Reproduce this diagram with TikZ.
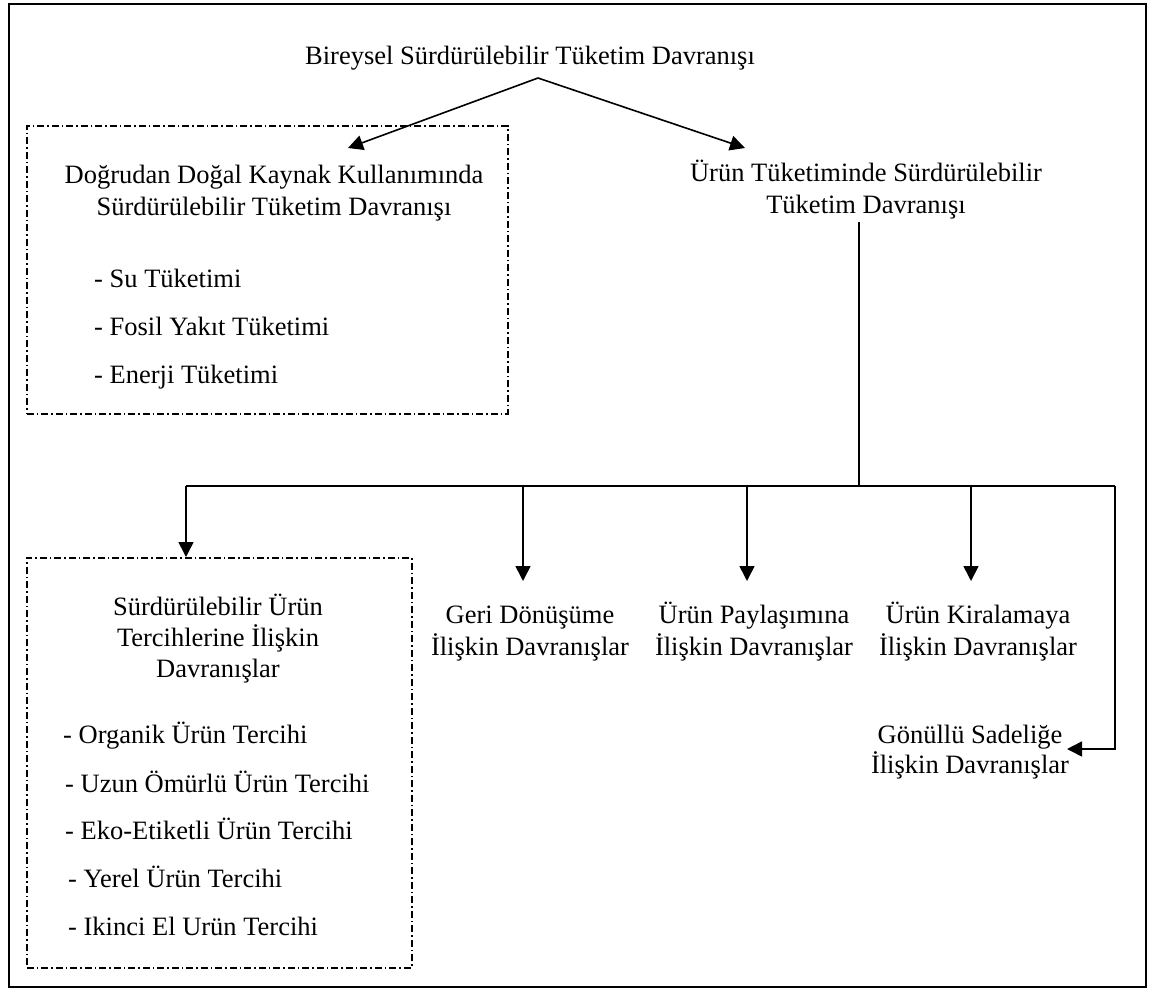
\documentclass[tikz,border=0pt]{standalone}
\usepackage{fontspec}
\setmainfont{Liberation Serif}
\usetikzlibrary{arrows.meta}

\begin{document}
\begin{tikzpicture}[x=1pt,y=-1pt,
  txt/.style={font=\fontsize{26.5}{32}\selectfont, inner sep=0pt},
  lbl/.style={txt, anchor=base, align=center},
  item/.style={txt, anchor=base west},
  wire/.style={line width=1.6pt},
  conn/.style={wire, -{Triangle[length=15pt,width=15pt]}},
  group/.style={draw, line width=1.5pt, dash pattern=on 7pt off 3pt on 1.5pt off 3pt,
                inner sep=0pt, anchor=north west},
  frame/.style={draw, line width=2pt}]

\useasboundingbox (0,0) rectangle (1150,990);
\draw[frame] (9,4.5) rectangle (1146,987);

% dash-dot group boxes
\node[group, minimum width=481pt, minimum height=288pt] (natbox) at (26,125) {};
\node[group, minimum width=385pt, minimum height=410pt] (prefbox) at (26,557) {};

% root (multi-line labels are placed by the baseline of their last line)
\node[lbl] (root) at (530,64) {Bireysel Sürdürülebilir Tüketim Davranışı};

% direct use of natural resources
\node[lbl] (nat) at (274,215) {Doğrudan Doğal Kaynak Kullanımında\\Sürdürülebilir Tüketim Davranışı};
\node[item] (su)     at (94,287) {- Su Tüketimi};
\node[item] (fosil)  at (94,335) {- Fosil Yakıt Tüketimi};
\node[item] (enerji) at (94,383) {- Enerji Tüketimi};

% product consumption
\node[lbl] (prod) at (866,213) {Ürün Tüketiminde Sürdürülebilir\\Tüketim Davranışı};

% product preferences
\node[lbl, font=\fontsize{26.5}{31}\selectfont] (pref) at (218,677) {Sürdürülebilir Ürün\\Tercihlerine İlişkin\\Davranışlar};
\node[item] (organik) at (63,743) {- Organik Ürün Tercihi};
\node[item] (uzun)    at (65,792) {- Uzun Ömürlü Ürün Tercihi};
\node[item] (eko)     at (65,839) {- Eko-Etiketli Ürün Tercihi};
\node[item] (yerel)   at (68,887) {- Yerel Ürün Tercihi};
\node[item] (ikinci)  at (68,935) {- Ikinci El Urün Tercihi};

% other behaviour groups
\node[lbl] (geri) at (530,655) {Geri Dönüşüme\\İlişkin Davranışlar};
\node[lbl] (pay)  at (754,655) {Ürün Paylaşımına\\İlişkin Davranışlar};
\node[lbl] (kira) at (978,655) {Ürün Kiralamaya\\İlişkin Davranışlar};
\node[lbl, font=\fontsize{26.5}{30}\selectfont] (sade) at (970,773) {Gönüllü Sadeliğe\\İlişkin Davranışlar};

% connector points
\coordinate (apex) at (538,78);
\coordinate (tipL) at (348,148);
\coordinate (tipR) at (745,148);
\coordinate (stem) at (859,222);
\coordinate (hub)  at (859,486);
\coordinate (busL) at (186,486);
\coordinate (busR) at (1115,486);
\coordinate (dGeri) at (523,486);
\coordinate (dPay)  at (747,486);
\coordinate (dKira) at (971,486);
\coordinate (bend)  at (1115,749);
\coordinate (tipS)  at (1067,749);

% root split
\draw[conn] (apex) -- (tipL);
\draw[conn] (apex) -- (tipR);

% distribution bus
\draw[wire] (stem) -- (hub);
\draw[wire] (busL) -- (busR);
\draw[conn] (busL) -- (busL |- prefbox.north);
\draw[conn] (dGeri) -- (523,581);
\draw[conn] (dPay) -- (747,581);
\draw[conn] (dKira) -- (971,581);
\draw[conn] (busR) -- (bend) -- (tipS);
\end{tikzpicture}
\end{document}
